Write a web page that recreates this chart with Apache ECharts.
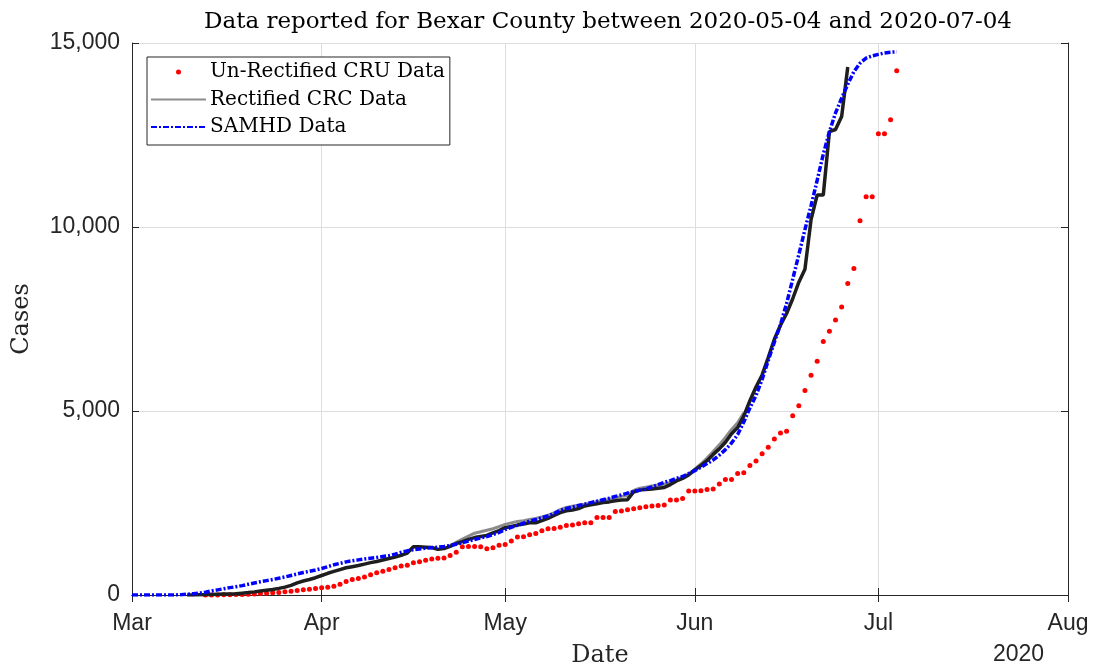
<!DOCTYPE html>
<html>
<head>
<meta charset="utf-8">
<script src="https://cdn.jsdelivr.net/npm/echarts@6/dist/echarts.min.js"></script>
<style>
html,body{margin:0;padding:0;background:#fff;}
#chart{width:1094px;height:668px;}
</style>
</head>
<body>
<div id="chart"></div>
<script>
// ---- data (day offsets counted from 2020-03-01) ----
const monthLabels = ['Jan','Feb','Mar','Apr','May','Jun','Jul','Aug','Sep','Oct','Nov','Dec'];
const yTicks = [0, 5000, 10000, 15000];

const cruStartDay = 12;
const cruValues = [1,2,3,5,8,12,16,20,27,40,50,59,68,88,104,122,140,155,180,195,210,240,295,370,
  420,450,490,548,603,648,693,738,789,811,878,901,942,975,997,1006,1074,1164,1311,1320,1320,1311,1256,1283,
  1355,1373,1464,1573,1582,1636,1673,1745,1800,1808,1844,1891,1899,1936,1963,1963,2107,2107,2107,2271,2280,
  2316,2344,2372,2399,2417,2435,2444,2580,2580,2625,2824,2824,2833,2869,2878,3013,3141,3141,3305,3323,3522,
  3640,3840,4012,4238,4400,4447,4874,5146,5554,5970,6351,6886,7167,7475,7828,8465,8873,10167,10820,10820,
  12533,12533,12914,14247];

const crcStartDay = 9;
const crcValues = [0,0,5,10,15,20,25,30,35,50,65,85,110,130,150,180,215,260,330,380,420,470,530,590,640,
  690,740,770,800,840,880,910,950,990,1030,1080,1140,1310,1310,1300,1290,1240,1260,1320,1400,1450,1510,1560,
  1590,1620,1690,1750,1830,1860,1900,1930,1960,1960,2020,2080,2160,2240,2290,2310,2350,2420,2450,2480,2510,
  2530,2560,2580,2590,2800,2850,2870,2880,2900,2920,3000,3100,3170,3260,3400,3520,3650,3820,3970,4150,4380,
  4550,4860,5280,5650,5980,6450,6950,7330,7650,8050,8500,8850,10200,10870,10870,12590,12650,13000,14350];

const crcUpperStartDay = 52;
const crcUpperValues = [1340,1430,1520,1600,1680,1720,1760,1800,1860,1920,1960,2000,2020,2050,2080,2120,
  2170,2230,2320,2380,2410,2440,2470,2500,2540,2570,2600,2640,2680,2700,2840,2900,2930,2960,2990,3010,3060,
  3130,3200,3290,3420,3560,3720,3900,4080,4280,4500,4680,4950];

const samhdStartDay = 0;
const samhdValues = [0,0,0,0,0,0,0,0,10,20,35,50,75,110,140,170,200,225,255,290,325,360,390,420,455,490,
  530,570,610,645,680,720,770,820,860,900,930,955,980,1000,1020,1045,1070,1110,1160,1200,1230,1250,1270,1285,
  1300,1320,1345,1380,1420,1465,1510,1550,1590,1640,1700,1780,1840,1890,1950,2010,2050,2100,2150,2210,2300,
  2350,2390,2430,2470,2510,2550,2590,2630,2680,2720,2770,2810,2850,2880,2940,3000,3060,3110,3170,3220,3300,
  3380,3470,3570,3670,3800,3950,4130,4360,4700,5080,5420,5860,6370,6870,7350,7920,8580,9250,9930,10580,
  11270,11980,12590,13100,13500,13880,14220,14450,14590,14650,14690,14730,14750,14760];

// ---- helpers ----
function dayTime(d){ return new Date(2020, 2, 1 + d).getTime(); }
function toPairs(start, vals){ return vals.map((v,i)=>[dayTime(start+i), v]); }

const xMin = dayTime(0);                     // 2020-03-01
const xMax = new Date(2020, 7, 1).getTime(); // 2020-08-01

const SERIF = '"DejaVu Serif","Liberation Serif",serif';
const SANS = '"Liberation Sans",Arial,sans-serif';
const AX = '#262626';

const chart = echarts.init(document.getElementById('chart'), null, {renderer:'canvas'});

function monthFmt(v){
  const d = new Date(v);
  return d.getDate() === 1 ? monthLabels[d.getMonth()] : '';
}

const option = {
  animation: false,
  backgroundColor: '#ffffff',
  title: {
    text: 'Data reported for Bexar County between 2020-05-04 and 2020-07-04',
    left: 603, top: 6, textAlign: 'center',
    textStyle: {fontFamily: SERIF, fontSize: 23, fontWeight: 'normal', color: '#000'}
  },
  grid: {left: 132, right: 26, top: 43, bottom: 73, containLabel: false, outerBoundsMode: 'none'},
  legend: {
    orient: 'vertical', left: 147, top: 57,
    data: [
      {name: 'Un-Rectified CRU Data'},
      {name: 'Rectified CRC Data', itemStyle: {opacity: 0}},
      {name: 'SAMHD Data', itemStyle: {opacity: 0}}
    ],
    itemWidth: 55, itemHeight: 5, itemGap: 7.5,
    padding: [5, 5, 8, 3],
    borderColor: AX, borderWidth: 1, backgroundColor: '#fff', borderRadius: 0,
    textStyle: {fontFamily: SERIF, fontSize: 20, lineHeight: 20, color: '#000', padding: [0,0,0,-1]}
  },
  xAxis: [{
    type: 'time', min: xMin, max: xMax, splitNumber: 5,
    axisLine: {lineStyle: {color: AX, width: 1}},
    axisTick: {inside: true, length: 7, lineStyle: {color: AX}},
    splitLine: {show: true, lineStyle: {color: '#dedede', width: 1}},
    axisLabel: {formatter: monthFmt, fontFamily: SANS, fontSize: 23, color: '#262626', margin: 17,
      showMinLabel: true, showMaxLabel: true, hideOverlap: false},
    name: 'Date', nameLocation: 'middle', nameGap: 49,
    nameTextStyle: {fontFamily: SERIF, fontSize: 24, color: '#262626'}
  },{
    type: 'time', min: xMin, max: xMax, splitNumber: 5, position: 'top',
    axisLine: {lineStyle: {color: AX, width: 1}},
    axisTick: {inside: true, length: 7, lineStyle: {color: AX}},
    axisLabel: {show: false}, splitLine: {show: false}
  }],
  yAxis: [{
    type: 'value', min: 0, max: 15000, interval: 5000,
    axisLine: {show: true, lineStyle: {color: AX, width: 1}},
    axisTick: {show: true, inside: true, length: 7, lineStyle: {color: AX}},
    splitLine: {show: true, lineStyle: {color: '#dedede', width: 1}},
    axisLabel: {formatter: v => v.toLocaleString('en-US'), fontFamily: SANS, fontSize: 23, color: '#262626', margin: 12},
    name: 'Cases', nameLocation: 'middle', nameGap: 98, nameRotate: 90,
    nameTextStyle: {fontFamily: SERIF, fontSize: 24, color: '#262626'}
  },{
    type: 'value', min: 0, max: 15000, interval: 5000, position: 'right',
    axisLine: {show: true, lineStyle: {color: AX, width: 1}},
    axisTick: {show: true, inside: true, length: 7, lineStyle: {color: AX}},
    axisLabel: {show: false}, splitLine: {show: false}
  }],
  graphic: [{
    type: 'text', left: 993, top: 643,
    style: {text: '2020', font: '23px "Liberation Sans", Arial, sans-serif', fill: '#262626'}
  }],
  series: [
    {
      name: 'Un-Rectified CRU Data', type: 'scatter', xAxisIndex: 0, yAxisIndex: 0,
      data: toPairs(cruStartDay, cruValues),
      symbol: 'circle', symbolSize: 5,
      itemStyle: {color: '#ff0000', opacity: 1}, z: 2
    },
    {
      name: 'Rectified CRC Data', type: 'line', xAxisIndex: 0, yAxisIndex: 0,
      data: toPairs(crcUpperStartDay, crcUpperValues),
      symbol: 'none', showSymbol: false,
      lineStyle: {color: '#8c8c8c', width: 3}, itemStyle: {color: '#8c8c8c'}, z: 3
    },
    {
      name: 'Rectified CRC Data', type: 'line', xAxisIndex: 0, yAxisIndex: 0,
      data: toPairs(crcStartDay, crcValues),
      symbol: 'none', showSymbol: false,
      lineStyle: {color: '#1e1e1e', width: 3.5}, itemStyle: {color: '#1e1e1e'}, z: 4
    },
    {
      name: 'SAMHD Data', type: 'line', xAxisIndex: 0, yAxisIndex: 0,
      data: toPairs(samhdStartDay, samhdValues),
      symbol: 'none', showSymbol: false,
      lineStyle: {color: '#0000ff', width: 3.5, type: [6, 2, 2, 2]}, itemStyle: {color: '#0000ff'}, z: 5
    }
  ]
};
chart.setOption(option);
</script>
</body>
</html>
